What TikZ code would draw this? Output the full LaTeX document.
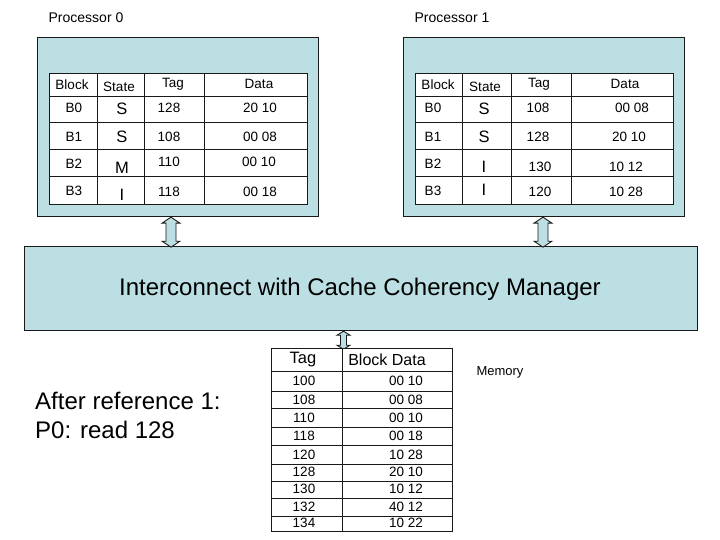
\documentclass[tikz,border=0pt]{standalone}
\usepackage{fontspec}
\setmainfont{Liberation Sans}
\usetikzlibrary{calc}
\definecolor{cbox}{RGB}{187,223,227}
\definecolor{cline}{RGB}{25,25,25}
\begin{document}
\begin{tikzpicture}[x=1pt,y=-1pt,
  box/.style={draw=cline, line width=1.2pt, fill=cbox, inner sep=0pt, anchor=north west},
  tbl/.style={draw=cline, line width=1pt, fill=white, inner sep=0pt, anchor=north west},
  tline/.style={draw=cline, line width=1pt},
  cell/.style={inner sep=0pt, font=\fontsize{13.5}{14}\selectfont},
  st/.style={inner sep=0pt, font=\fontsize{16.5}{16}\selectfont},
  lbl/.style={inner sep=0pt, font=\fontsize{14}{14}\selectfont},
  arr/.style={draw=cline, line width=0.9pt, fill=cbox, line join=miter}]
\useasboundingbox (0,0) rectangle (720,540);

% labels
\node[lbl] (lp0) at (86,18) {Processor 0};
\node[lbl] (lp1) at (452,18) {Processor 1};

% processor boxes
\node[box, minimum width=281pt, minimum height=179pt] (p0) at (37,37) {};
\node[box, minimum width=281pt, minimum height=179pt] (p1) at (403,37) {};

% tables
\node[tbl, minimum width=258pt, minimum height=131pt] (t0) at (49,73) {};
\node[tbl, minimum width=258pt, minimum height=131pt] (t1) at (415,73) {};
\foreach \yy in {97,123,150,177} {
  \draw[tline] (49,\yy) -- (307,\yy);
  \draw[tline] (415,\yy) -- (673,\yy);
}
\foreach \xx in {97,144,204} \draw[tline] (\xx,73) -- (\xx,204);
\foreach \xx in {462,511,571} \draw[tline] (\xx,73) -- (\xx,204);

% table 0 text
\node[cell] (a0h1) at (72,85) {Block};
\node[cell] (a0h2) at (119,87) {State};
\node[cell] (a0h3) at (173,84) {Tag};
\node[cell] (a0h4) at (259,84) {Data};
\node[cell] (a0b0) at (74,108) {B0};
\node[st]   (a0s0) at (122,109) {S};
\node[cell] (a0t0) at (169,108) {128};
\node[cell] (a0d0) at (260,108) {20 10};
\node[cell] (a0b1) at (74,137) {B1};
\node[st]   (a0s1) at (122,137) {S};
\node[cell] (a0t1) at (169,137) {108};
\node[cell] (a0d1) at (260,137) {00 08};
\node[cell] (a0b2) at (74,164) {B2};
\node[st]   (a0s2) at (122,168) {M};
\node[cell] (a0t2) at (169,162) {110};
\node[cell] (a0d2) at (259,162) {00 10};
\node[cell] (a0b3) at (74,191) {B3};
\node[st]   (a0s3) at (122,195) {I};
\node[cell] (a0t3) at (169,192) {118};
\node[cell] (a0d3) at (260,192) {00 18};

% table 1 text
\node[cell] (a1h1) at (438,85) {Block};
\node[cell] (a1h2) at (485,87) {State};
\node[cell] (a1h3) at (539,84) {Tag};
\node[cell] (a1h4) at (625,84) {Data};
\node[cell] (a1b0) at (433,108) {B0};
\node[st]   (a1s0) at (484,109) {S};
\node[cell] (a1t0) at (538,108) {108};
\node[cell] (a1d0) at (632,108) {00 08};
\node[cell] (a1b1) at (433,137) {B1};
\node[st]   (a1s1) at (484,137) {S};
\node[cell] (a1t1) at (538,137) {128};
\node[cell] (a1d1) at (629,137) {20 10};
\node[cell] (a1b2) at (433,164) {B2};
\node[st]   (a1s2) at (484,167) {I};
\node[cell] (a1t2) at (540,167) {130};
\node[cell] (a1d2) at (626,167) {10 12};
\node[cell] (a1b3) at (433,191) {B3};
\node[st]   (a1s3) at (484,190) {I};
\node[cell] (a1t3) at (540,192) {120};
\node[cell] (a1d3) at (626,192) {10 28};

% interconnect
\node[box, minimum width=673pt, minimum height=84pt] (ic) at (24,246) {};
\node[inner sep=0pt, font=\fontsize{24}{24}\selectfont] (ict) at (360,289) {Interconnect with Cache Coherency Manager};

% arrows
\coordinate (ar0) at (p0.south -| 171,0);
\coordinate (ar1) at (p1.south -| 543,0);
\coordinate (ar2) at (ic.south -| 343.5,0);
\draw[arr] (ar0) -- ++(9,6) -- ++(-4,0) -- ++(0,18) -- ++(4,0) -- ++(-9,6)
  -- ++(-9,-6) -- ++(4,0) -- ++(0,-18) -- ++(-4,0) -- cycle;
\draw[arr] (ar1) -- ++(9,6) -- ++(-4,0) -- ++(0,18) -- ++(4,0) -- ++(-9,6)
  -- ++(-9,-6) -- ++(4,0) -- ++(0,-18) -- ++(-4,0) -- cycle;
\draw[arr] (ar2) -- ++(6.5,4) -- ++(-3.5,0) -- ++(0,10) -- ++(3.5,0) -- ++(-6.5,4)
  -- ++(-6.5,-4) -- ++(3.5,0) -- ++(0,-10) -- ++(-3.5,0) -- cycle;

% memory table
\node[tbl, minimum width=181pt, minimum height=183pt] (mt) at (271,348) {};
\foreach \yy in {371,391,408,427,445,464,481,498,516}
  \draw[tline] (271,\yy) -- (452,\yy);
\draw[tline] (342.7,348) -- (342.7,531);
\node[inner sep=0pt, font=\fontsize{16.5}{16}\selectfont] (mh1) at (303,360) {Tag};
\node[inner sep=0pt, font=\fontsize{16}{16}\selectfont] (mh2) at (387,360) {Block Data};
\foreach \yy/\tg/\dt [count=\i] in {381/100/00 10, 400/108/00 08, 418/110/00 10, 436/118/00 18,
  455/120/10 28, 472/128/20 10, 489/130/10 12, 507/132/40 12, 523/134/10 22} {
  \node[cell] (mtag\i) at (304,\yy) {\tg};
  \node[cell] (mdat\i) at (406,\yy) {\dt};
}
\node[inner sep=0pt, font=\fontsize{13}{13}\selectfont] (mem) at (500,372) {Memory};

% note
\node[inner sep=0pt, anchor=west, align=left, font=\fontsize{24}{29}\selectfont] (note) at (35,415)
  {After reference 1:\\P0: read 128};
\end{tikzpicture}
\end{document}
